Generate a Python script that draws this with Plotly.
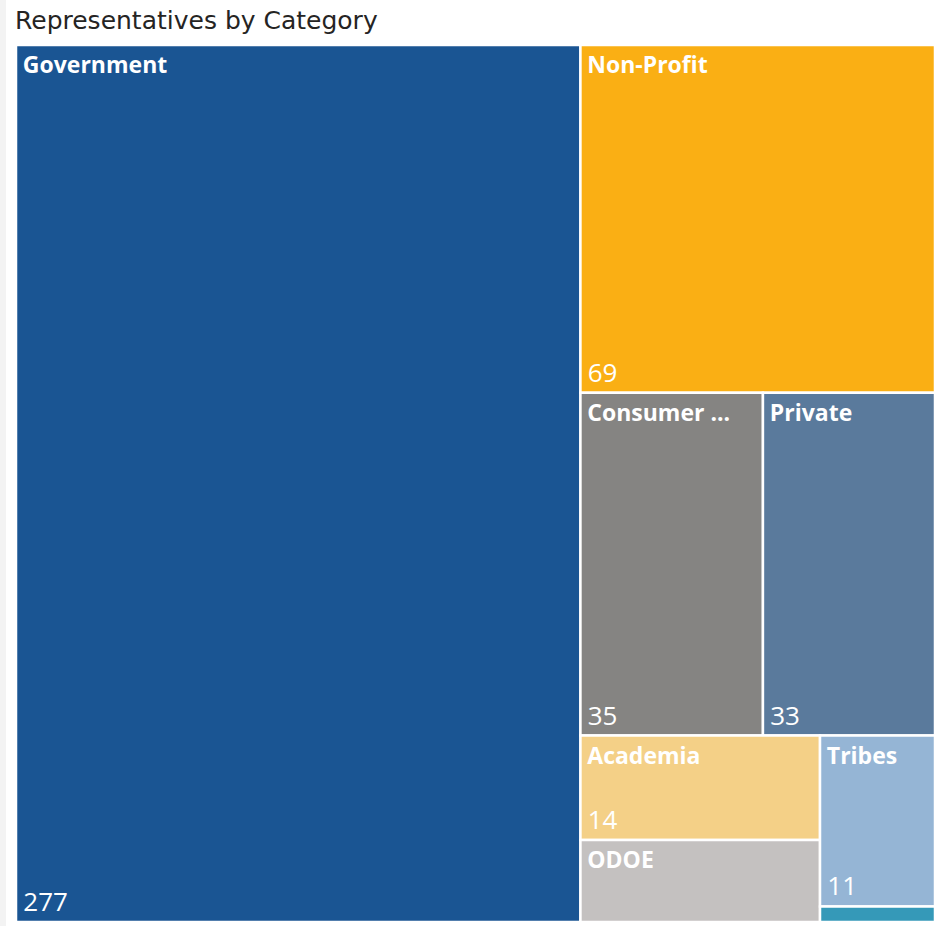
import plotly.graph_objects as go

categories = ["Government", "Non-Profit", "Consumer ...", "Private", "Academia", "ODOE", "Tribes", "Other"]
values = [277, 69, 35, 33, 14, 11, 11, 1]
colors = ["#1A5593", "#FAAF14", "#858482", "#5A7A9C", "#F4D087", "#C4C1C0", "#95B5D5", "#3599B8"]
show_label = [True, True, True, True, True, True, True, False]
show_value = [True, True, True, True, True, False, True, False]

parents = [""] * len(categories)

label_tpl = ["\u2009<b>%{label}</b>" if s else "" for s in show_label]
value_tpl = ["\u2009%{value}" if s else "" for s in show_value]

W, H = 935, 926
domain = dict(x=[16 / W, 1.0], y=[4 / H, 1 - 45 / H])
tiling = dict(packing="squarify", squarifyratio=1.5, pad=0)

fig = go.Figure()
fig.add_trace(go.Treemap(
    labels=categories,
    parents=parents,
    values=values,
    sort=True,
    domain=domain,
    tiling=tiling,
    marker=dict(colors=colors, line=dict(color="white", width=2.5), pad=dict(t=0, l=0, r=0, b=0)),
    texttemplate=label_tpl,
    textposition="top left",
    textfont=dict(family="Open Sans, DejaVu Sans, sans-serif", size=23, color="white"),
    pathbar=dict(visible=False),
    hoverinfo="label+value",
))
fig.add_trace(go.Treemap(
    labels=categories,
    parents=parents,
    values=values,
    sort=True,
    domain=domain,
    tiling=tiling,
    marker=dict(colors=["rgba(0,0,0,0)"] * len(categories), line=dict(width=0), pad=dict(t=0, l=0, r=0, b=0)),
    texttemplate=value_tpl,
    textposition="bottom left",
    textfont=dict(family="Open Sans, DejaVu Sans, sans-serif", size=26, color="white"),
    pathbar=dict(visible=False),
    hoverinfo="skip",
))

fig.update_layout(
    width=W,
    height=H,
    margin=dict(l=0, r=0, t=0, b=0),
    paper_bgcolor="white",
    plot_bgcolor="white",
    showlegend=False,
    title=dict(
        text="Representatives by Category",
        x=15 / W, xanchor="left",
        y=1 - 20 / H, yanchor="middle",
        font=dict(family="DejaVu Sans, sans-serif", size=25, color="#252423"),
    ),
    shapes=[dict(type="rect", xref="paper", yref="paper", x0=0, x1=6 / W, y0=0, y1=1,
                 fillcolor="#F3F3F3", line=dict(width=0), layer="below")],
)

fig.write_html(
    "out.html",
    config={"displayModeBar": False},
    post_script="document.body.style.margin='0';document.body.style.overflow='hidden';",
)
